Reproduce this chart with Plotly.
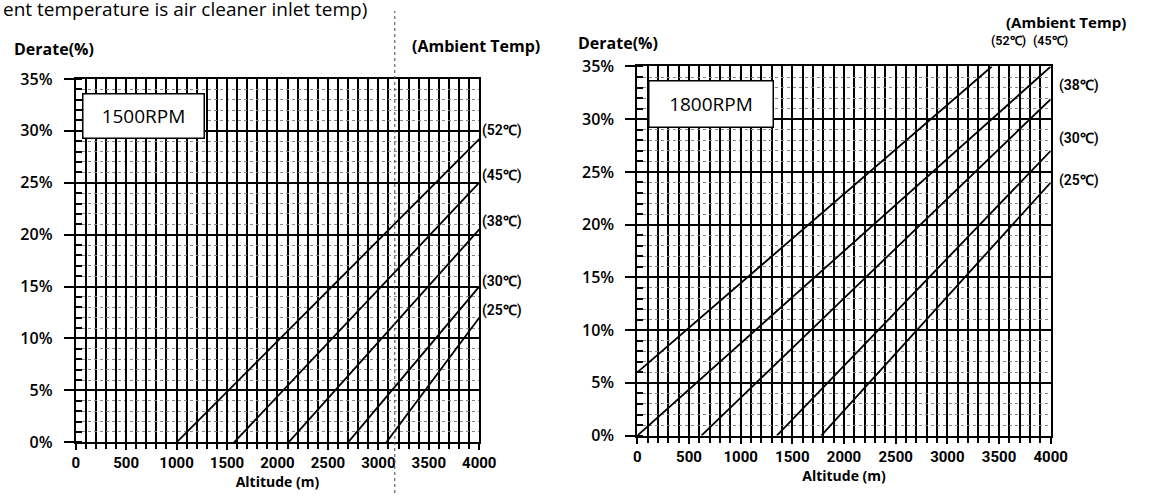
import plotly.graph_objects as go

W, H = 1160, 504

# ---------------- data ----------------
temps = ["(52℃)", "(45℃)", "(38℃)", "(30℃)", "(25℃)"]

# 1500 RPM: each line = [start point, end point] (altitude m, derate %)
rpm1500_alt = [[1000, 4000], [1570, 4000], [2110, 4000], [2700, 4000], [3080, 4000]]
rpm1500_der = [[0, 29.2], [0, 25.0], [0, 20.5], [0, 15.0], [0, 12.0]]

# 1800 RPM
rpm1800_alt = [[0, 3430], [0, 4000], [620, 4000], [1350, 4000], [1780, 4000]]
rpm1800_der = [[6.0, 35], [0, 35], [0, 31.9], [0, 27.0], [0, 24.0]]

x_ticks = [0, 500, 1000, 1500, 2000, 2500, 3000, 3500, 4000]
y_ticks = [0, 5, 10, 15, 20, 25, 30, 35]
y_text = ["0%", "5%", "10%", "15%", "20%", "25%", "30%", "35%"]

# ---------------- helpers ----------------
def px(x):
    return x / W

def py(y):
    return 1 - y / H

FONT = "Open Sans, Noto Sans, sans-serif"
NARROW = "Liberation Sans Narrow, Roboto, sans-serif"

fig = go.Figure()

for alts, ders in zip(rpm1500_alt, rpm1500_der):
    fig.add_trace(go.Scatter(x=alts, y=ders, mode="lines", xaxis="x", yaxis="y",
                             line=dict(color="black", width=1.8), showlegend=False,
                             hoverinfo="skip"))
for alts, ders in zip(rpm1800_alt, rpm1800_der):
    fig.add_trace(go.Scatter(x=alts, y=ders, mode="lines", xaxis="x2", yaxis="y2",
                             line=dict(color="black", width=1.8), showlegend=False,
                             hoverinfo="skip"))

def xaxis(domain):
    return dict(
        domain=domain, range=[0, 4000], tickmode="array", tickvals=x_ticks,
        ticktext=[str(v) for v in x_ticks],
        showgrid=True, gridcolor="black", gridwidth=1.8,
        ticks="outside", ticklen=6, tickcolor="black", tickwidth=1.5,
        minor=dict(dtick=100, showgrid=True, gridcolor="black", gridwidth=1.8,
                   ticks="outside", ticklen=5, tickcolor="black"),
        showline=True, linecolor="black", linewidth=2, mirror=True,
        zeroline=False, fixedrange=True,
        tickfont=dict(family=NARROW, size=15, color="black", weight="bold"),
        title=dict(text="Altitude (m)", font=dict(family=FONT, size=14, color="black", weight="bold"),
                   standoff=6),
    )

def yaxis(domain):
    return dict(
        domain=domain, range=[0, 35], tickmode="array", tickvals=y_ticks, ticktext=y_text,
        showgrid=True, gridcolor="black", gridwidth=1.8,
        ticks="outside", ticklen=10, tickcolor="black", tickwidth=1.5,
        minor=dict(dtick=1, showgrid=True, gridcolor="#888", gridwidth=1, griddash="dot",
                   ticks="inside", ticklen=6, tickcolor="black"),
        showline=True, linecolor="black", linewidth=2, mirror=True,
        zeroline=False, fixedrange=True, ticklabelstandoff=8,
        tickfont=dict(family=FONT, size=16, color="black", weight=600),
    )

fig.update_layout(
    width=W, height=H, margin=dict(l=0, r=0, t=0, b=0),
    paper_bgcolor="white", plot_bgcolor="white",
    xaxis=dict(**xaxis([px(73), px(484)]), anchor="y"),
    yaxis=dict(**yaxis([py(451), py(71)]), anchor="x"),
    xaxis2=dict(**xaxis([px(645), px(1066)]), anchor="y2"),
    yaxis2=dict(**yaxis([py(444), py(58)]), anchor="x2"),
)

ann = []
def text(x, y, s, size=14, xanchor="left", weight="normal", family=FONT, box=None):
    d = dict(x=px(x), y=py(y), xref="paper", yref="paper", text=s, showarrow=False,
             xanchor=xanchor, yanchor="middle",
             font=dict(family=family, size=size, color="black", weight=weight))
    if box:
        d.update(bordercolor="black", borderwidth=1.5, borderpad=0, bgcolor="white",
                 width=box[0], height=box[1])
    ann.append(d)

# top cut-off sentence
text(-3, -2, "ent temperature is air cleaner inlet temp)", size=19)
# left chart
text(8, 40, "Derate(%)", size=16, weight="bold")
text(413, 37, "(Ambient Temp)", size=16, weight="bold")
text(142, 110, "1500RPM", size=19, xanchor="center", box=(120, 43))
left_lbl_y = [125, 172, 220, 283, 313]
for t, yy in zip(temps, left_lbl_y):
    text(485, yy, t, size=14, weight=600, family=NARROW)
# right chart
text(583, 33, "Derate(%)", size=16, weight="bold")
text(1018, 11, "(Ambient Temp)", size=15, weight="bold")
text(720, 97, "1800RPM", size=19, xanchor="center", box=(123, 45))
text(1003, 31, temps[0], size=12.5, weight=600, family=NARROW)
text(1046, 31, temps[1], size=12.5, weight=600, family=NARROW)
for t, yy in zip(temps[2:], [78, 133, 177]):
    text(1072, yy, t, size=14, weight=600, family=NARROW)

fig.update_layout(annotations=ann)

# scan fold line
fig.add_shape(type="line", xref="paper", yref="paper", x0=px(398), x1=px(398), y0=0, y1=1,
              line=dict(color="#444", width=1, dash="dot"))

fig.write_html("out.html", config={"displayModeBar": False},
               post_script="document.body.style.margin='0';")
